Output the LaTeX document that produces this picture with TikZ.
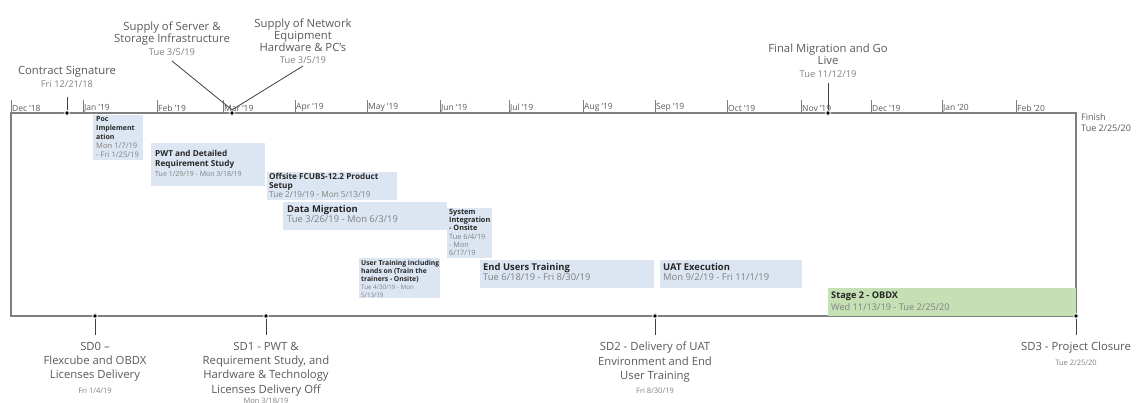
\documentclass[tikz,border=0pt]{standalone}
\usepackage{fontspec}
\setmainfont{Open Sans}
\usetikzlibrary{shapes.geometric}

\definecolor{axisgray}{HTML}{7F7F7F}
\definecolor{labelgray}{HTML}{595959}
\definecolor{dategray}{HTML}{808080}
\definecolor{taskblue}{HTML}{DCE6F2}
\definecolor{stagegreen}{HTML}{C5E0B4}
\definecolor{titledark}{HTML}{262626}

\newcommand\tasktitle[1]{{\bfseries\color{titledark}#1}}
\newcommand\msday[1]{{\fontsize{9.3}{12}\selectfont\color{dategray}#1}}
\newcommand\sdday[1]{{\fontsize{7.5}{10}\selectfont\color{dategray}#1}}

\tikzset{
  frameline/.style={draw=axisgray, line width=1.6pt},
  monthtick/.style={draw=axisgray, line width=0.8pt},
  monthlbl/.style={anchor=south west, inner sep=1pt, text=labelgray,
    font=\fontsize{8.5}{9}\selectfont},
  mslbl/.style={align=center, inner sep=0pt, text=labelgray,
    font=\fontsize{11.3}{12.8}\selectfont},
  mslow/.style={mslbl, anchor=north, font=\fontsize{11.3}{14.3}\selectfont},
  marker/.style={diamond, fill=black, draw=white, line width=0.8pt,
    inner sep=0pt, minimum size=5.5pt},
  link/.style={draw=black!75, line width=0.8pt},
  taskbox/.style={fill=taskblue, anchor=north west, inner sep=0pt},
  stagebox/.style={taskbox, fill=stagegreen},
  tasktext/.style={anchor=north west, align=left, inner sep=0pt, text=dategray,
    font=\fontsize{7}{9.5}\selectfont},
}

\begin{document}
\begin{tikzpicture}[x=1pt, y=-1pt]
\useasboundingbox (0,0) rectangle (1137,403);

% outer frame of the timeline
\draw[frameline] (11,113) -- (1076,113) -- (1076,316) -- (11,316) -- cycle;

% month ticks along the top axis
\foreach \x/\m in {11/Dec '18, 83/Jan '19, 157/Feb '19, 223/Mar '19, 295/Apr '19,
  367/May '19, 440/Jun '19, 509/Jul '19, 583/Aug '19, 655/Sep '19, 727/Oct '19,
  801/Nov '19, 871/Dec '19, 942/Jan '20, 1016/Feb '20} {
  \draw[monthtick] (\x,100) -- (\x,113);
  \node[monthlbl] at (\x,113) {\m};
}

% finish label
\node[anchor=north west, align=left, inner sep=0pt, text=labelgray,
  font=\fontsize{9}{11}\selectfont] (finish) at (1081,113) {Finish\\Tue 2/25/20};

% task boxes
\node[taskbox, minimum width=50pt, minimum height=45pt] (poc) at (93,115) {};
\node[tasktext, font=\fontsize{7}{9.2}\selectfont] (poct) at ([xshift=3pt,yshift=-1pt]poc.north west)
  {\tasktitle{Poc}\\\tasktitle{Implement}\\\tasktitle{ation}\\{\fontsize{7.6}{9.2}\selectfont Mon 1/7/19}\\{\fontsize{7.6}{9.2}\selectfont - Fri 1/25/19}};

\node[taskbox, minimum width=114pt, minimum height=43pt] (pwt) at (151,143) {};
\node[tasktext, font=\fontsize{8.2}{9.8}\selectfont] (pwtt) at ([xshift=4pt,yshift=-7pt]pwt.north west)
  {\tasktitle{PWT and Detailed}\\\tasktitle{Requirement Study}\\{\fontsize{7}{9.8}\selectfont Tue 1/29/19 - Mon 3/18/19}};

\node[taskbox, minimum width=130pt, minimum height=28pt] (off) at (267,172) {};
\node[tasktext, font=\fontsize{8.2}{9.2}\selectfont] (offt) at ([xshift=2pt,yshift=-1pt]off.north west)
  {\tasktitle{Offsite FCUBS-12.2 Product}\\\tasktitle{Setup}\\{\fontsize{8.2}{9.2}\selectfont Tue 2/19/19 - Mon 5/13/19}};

\node[taskbox, minimum width=164pt, minimum height=28pt] (dm) at (283,202) {};
\node[tasktext, font=\fontsize{9.4}{10.5}\selectfont] (dmt) at ([xshift=4pt,yshift=-3pt]dm.north west)
  {\tasktitle{Data Migration}\\Tue 3/26/19 - Mon 6/3/19};

\node[taskbox, minimum width=45pt, minimum height=50pt] (sit) at (447,208) {};
\node[tasktext, font=\fontsize{7.3}{8.2}\selectfont] (sitt) at ([xshift=2pt,yshift=-1pt]sit.north west)
  {\tasktitle{System}\\\tasktitle{Integration}\\\tasktitle{- Onsite}\\Tue 6/4/19\\- Mon\\6/17/19};

\node[taskbox, minimum width=81pt, minimum height=40pt] (ut) at (359,258) {};
\node[tasktext, font=\fontsize{6.8}{8}\selectfont] (utt) at ([xshift=2pt,yshift=-2pt]ut.north west)
  {\tasktitle{User Training including}\\\tasktitle{hands on (Train the}\\\tasktitle{trainers - Onsite)}\\{\fontsize{6.2}{8}\selectfont Tue 4/30/19 - Mon}\\{\fontsize{6.2}{8}\selectfont 5/13/19}};

\node[taskbox, minimum width=174pt, minimum height=28pt] (eut) at (480,260) {};
\node[tasktext, font=\fontsize{9.4}{10.5}\selectfont] (eutt) at ([xshift=3pt,yshift=-3pt]eut.north west)
  {\tasktitle{End Users Training}\\Tue 6/18/19 - Fri 8/30/19};

\node[taskbox, minimum width=142pt, minimum height=28pt] (uat) at (660,260) {};
\node[tasktext, font=\fontsize{9.4}{10.5}\selectfont] (uatt) at ([xshift=3pt,yshift=-3pt]uat.north west)
  {\tasktitle{UAT Execution}\\Mon 9/2/19 - Fri 11/1/19};

\node[stagebox, minimum width=248pt, minimum height=28pt] (obdx) at (828,288) {};
\node[tasktext, font=\fontsize{9.2}{11.5}\selectfont] (obdxt) at ([xshift=3pt,yshift=-4pt]obdx.north west)
  {\tasktitle{Stage 2 - OBDX}\\Wed 11/13/19 - Tue 2/25/20};

% milestones above the axis
\node[marker] (m-cs) at (67,113) {};
\node[mslbl, anchor=south] (l-cs) at (67,88)
  {Contract Signature\\\msday{Fri 12/21/18}};
\draw[link] ([yshift=-9pt]l-cs.south) -- (m-cs.north);

\node[marker] (m-srv) at (232,113) {};
\node[mslbl, anchor=south] (l-srv) at (172,56)
  {Supply of Server \&\\Storage Infrastructure\\\msday{Tue 3/5/19}};
\node[mslbl, anchor=south, font=\fontsize{11.3}{12}\selectfont] (l-net) at (303,64)
  {Supply of Network\\Equipment\\Hardware \& PC's\\\msday{Tue 3/5/19}};
\draw[link] ([yshift=-5pt]l-srv.south) -- (m-srv.north);
\draw[link] ([yshift=-2pt]l-net.south) -- (m-srv.north);

\node[marker] (m-fin) at (828,113) {};
\node[mslbl, anchor=south] (l-fin) at (828,78)
  {Final Migration and Go\\Live\\\msday{Tue 11/12/19}};
\draw[link] ([yshift=-5pt]l-fin.south) -- (m-fin.north);

% milestones below the axis
\node[marker] (m-sd0) at (95,316) {};
\node[mslow] (l-sd0) at (95,342)
  {SD0 –\\Flexcube and OBDX\\Licenses Delivery\\\sdday{Fri 1/4/19}};
\draw[link] (m-sd0.south) -- ([yshift=7pt]l-sd0.north);

\node[marker] (m-sd1) at (266,316) {};
\node[mslow] (l-sd1) at (266,342)
  {SD1 - PWT \&\\Requirement Study, and\\Hardware \& Technology\\Licenses Delivery Off\\[-4.5pt]\sdday{Mon 3/18/19}};
\draw[link] (m-sd1.south) -- ([yshift=7pt]l-sd1.north);

\node[marker] (m-sd2) at (655,316) {};
\node[mslow] (l-sd2) at (655,342)
  {SD2 - Delivery of UAT\\Environment and End\\User Training\\\sdday{Fri 8/30/19}};
\draw[link] (m-sd2.south) -- ([yshift=7pt]l-sd2.north);

\node[marker] (m-sd3) at (1076,316) {};
\node[mslow] (l-sd3) at (1076,342)
  {SD3 - Project Closure\\\sdday{Tue 2/25/20}};
\draw[link] (m-sd3.south) -- ([yshift=7pt]l-sd3.north);
\end{tikzpicture}
\end{document}
